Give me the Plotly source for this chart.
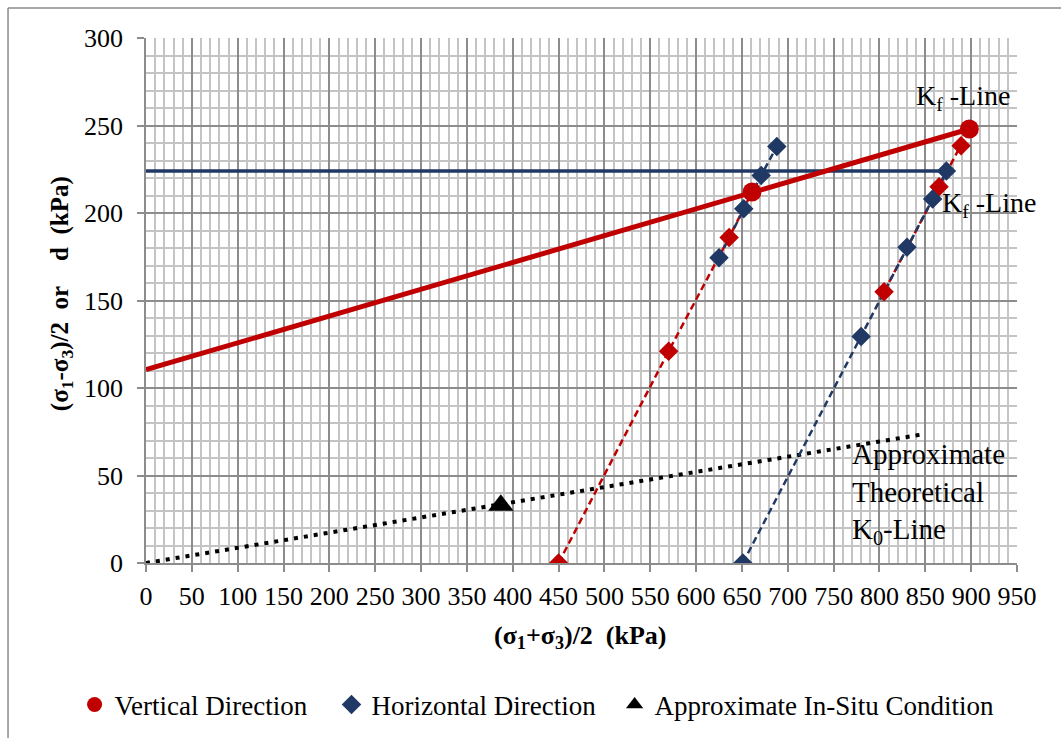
import plotly.graph_objects as go

# ---- data ----
vert_left_x = [450, 570, 636, 661]
vert_left_y = [0, 121, 186, 212]
vert_right_x = [805, 865, 889, 898]
vert_right_y = [155, 215, 238.5, 248]

horz_left_x = [625, 652, 671, 688]
horz_left_y = [174.5, 202.5, 221.5, 238]
horz_right_x = [651, 780, 830, 858, 873]
horz_right_y = [0, 129.5, 180.5, 208, 224]

fail_x = [661, 898]          # failure points (circles) on vertical Kf line
fail_y = [212, 248]

kf_vert_x = [0, 898]
kf_vert_y = [110.5, 248]
kf_horz_x = [0, 873]
kf_horz_y = [224, 224]

k0_x = [0, 847]
k0_y = [0, 73.5]
insitu_x = [387]
insitu_y = [33]

x_ticks = list(range(0, 951, 50))
y_ticks = list(range(0, 301, 50))

RED = "#C00000"
NAVY = "#1F3864"
FONT = "Liberation Serif, Times New Roman, serif"

fig = go.Figure()

# K0 dotted line
fig.add_trace(go.Scatter(x=k0_x, y=k0_y, mode="lines",
                         line=dict(color="black", width=4, dash="4px,6px"),
                         showlegend=False, hoverinfo="skip"))
# Kf lines
fig.add_trace(go.Scatter(x=kf_horz_x, y=kf_horz_y, mode="lines",
                         line=dict(color=NAVY, width=3.5), showlegend=False))
fig.add_trace(go.Scatter(x=kf_vert_x, y=kf_vert_y, mode="lines",
                         line=dict(color=RED, width=5), showlegend=False))

# stress path lines
for xs, ys, c in [(vert_left_x, vert_left_y, RED), (vert_right_x, vert_right_y, RED),
                  (horz_right_x, horz_right_y, NAVY), (horz_left_x, horz_left_y, NAVY)]:
    fig.add_trace(go.Scatter(x=xs, y=ys, mode="lines",
                             line=dict(color=c, width=2.5, dash="7px,4px"),
                             showlegend=False))

# markers
fig.add_trace(go.Scatter(x=vert_left_x[:-1] + vert_right_x[:-1],
                         y=vert_left_y[:-1] + vert_right_y[:-1], mode="markers",
                         marker=dict(symbol="diamond", size=15, color=RED),
                         showlegend=False))
fig.add_trace(go.Scatter(x=horz_right_x + horz_left_x, y=horz_right_y + horz_left_y,
                         mode="markers",
                         marker=dict(symbol="diamond", size=15, color=NAVY),
                         showlegend=False))
fig.add_trace(go.Scatter(x=fail_x, y=fail_y, mode="markers",
                         marker=dict(symbol="circle", size=19, color=RED),
                         showlegend=False))
fig.add_trace(go.Scatter(x=insitu_x, y=insitu_y, mode="markers",
                         marker=dict(symbol="triangle-up", size=22, color="black"),
                         showlegend=False))

# legend entries (each in its own legend so they sit on one row like the reference)
fig.add_trace(go.Scatter(x=[None], y=[None], mode="markers", name="Vertical Direction",
                         marker=dict(symbol="circle", size=15, color=RED), legend="legend"))
fig.add_trace(go.Scatter(x=[None], y=[None], mode="markers", name="Horizontal Direction",
                         marker=dict(symbol="diamond", size=15, color=NAVY), legend="legend2"))
fig.add_trace(go.Scatter(x=[None], y=[None], mode="markers",
                         name="Approximate In-Situ Condition",
                         marker=dict(symbol="triangle-up", size=15, color="black"),
                         legend="legend3"))

axis_common = dict(
    showgrid=True, gridcolor="#8C8C8C", gridwidth=1.5,
    zeroline=False, showline=True, linecolor="#8C8C8C", linewidth=1.5,
    ticks="outside", ticklen=7, tickcolor="#8C8C8C", tickwidth=1.5,
    tickfont=dict(family=FONT, size=26, color="black"),
    minor=dict(dtick=10, showgrid=True, gridcolor="#C4C4C4", gridwidth=1.5, ticks=""),
)

fig.update_xaxes(range=[0, 950], tickvals=x_ticks, ticklabelstandoff=2, **axis_common)
fig.update_yaxes(range=[0, 300], tickvals=y_ticks, ticklabelstandoff=9, **axis_common)

annotations = [
    dict(x=838, y=266, xref="x", yref="y", xanchor="left", yanchor="middle",
         text="K<sub>f</sub> -Line", showarrow=False,
         font=dict(family=FONT, size=28, color="black")),
    dict(x=866, y=205, xref="x", yref="y", xanchor="left", yanchor="middle",
         text="K<sub>f</sub> -Line", showarrow=False,
         font=dict(family=FONT, size=28, color="black")),
    dict(x=768, y=40, xref="x", yref="y", xanchor="left", yanchor="middle", align="left",
         text="Approximate<br>Theoretical<br>K<sub>0</sub>-Line", showarrow=False,
         font=dict(family=FONT, size=29, color="black")),
    dict(x=0.499, y=-0.14, xref="paper", yref="paper", xanchor="center", yanchor="middle",
         text="<b>(σ<sub>1</sub>+σ<sub>3</sub>)/2\u00a0\u00a0(kPa)</b>", showarrow=False,
         font=dict(family=FONT, size=26, color="black")),
    dict(x=-0.097, y=0.513, xref="paper", yref="paper", xanchor="center", yanchor="middle",
         textangle=-90,
         text="<b>(σ<sub>1</sub>-σ<sub>3</sub>)/2\u00a0\u00a0or\u00a0\u00a0\u00a0\u00a0d\u00a0\u00a0(kPa)</b>",
         showarrow=False, font=dict(family=FONT, size=25, color="black")),
]

shapes = [
    dict(type="line", xref="paper", yref="paper", x0=-0.1584, x1=-0.1584, y0=1.0571, y1=-0.34,
         line=dict(color="#8C8C8C", width=1.5)),
    dict(type="line", xref="paper", yref="paper", x0=-0.1584, x1=1.06, y0=1.0571, y1=1.0571,
         line=dict(color="#8C8C8C", width=1.5)),
]

leg_common = dict(orientation="h", y=-0.2705, yanchor="middle", xanchor="left",
                  font=dict(family=FONT, size=27, color="black"),
                  itemwidth=30, bgcolor="rgba(0,0,0,0)")

fig.update_layout(
    width=1061, height=738,
    margin=dict(l=146, r=44, t=38, b=175, autoexpand=False),
    paper_bgcolor="white", plot_bgcolor="white",
    font=dict(family=FONT, color="black"),
    showlegend=True,
    legend=dict(x=-0.082, **leg_common),
    legend2=dict(x=0.213, **leg_common),
    legend3=dict(x=0.538, **leg_common),
    annotations=annotations,
    shapes=shapes,
)

fig.write_html("out.html")
